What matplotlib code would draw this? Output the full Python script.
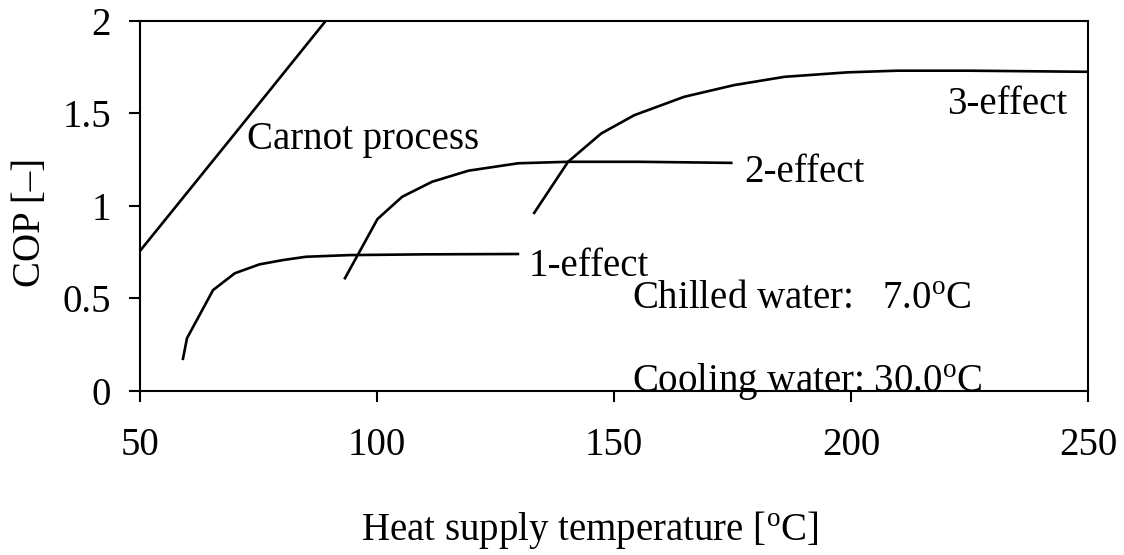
import matplotlib
matplotlib.use("Agg")
import matplotlib.pyplot as plt

plt.rcParams['font.family'] = ['Liberation Serif', 'DejaVu Serif']
plt.rcParams['mathtext.fontset'] = 'custom'
plt.rcParams['mathtext.rm'] = 'Liberation Serif'
plt.rcParams['mathtext.it'] = 'Liberation Serif:italic'

# Data
carnot_t = [50, 70, 89.2]
carnot_cop = [0.757, 1.39, 2.0]

eff1_t = [59.0, 59.9, 65.4, 70.0, 75.2, 80.1, 85.0, 94.1, 110.0, 130.0]
eff1_cop = [0.167, 0.285, 0.545, 0.636, 0.684, 0.707, 0.725, 0.734, 0.738, 0.740]

eff2_t = [93.1, 100.1, 105.3, 111.6, 119.3, 129.8, 140.3, 155.0, 175.0]
eff2_cop = [0.603, 0.929, 1.049, 1.13, 1.19, 1.23, 1.238, 1.238, 1.232]

eff3_t = [133.0, 140.3, 147.3, 154.3, 164.8, 175.3, 186.0, 199.2, 209.7, 225.0, 250.0]
eff3_cop = [0.956, 1.238, 1.391, 1.49, 1.589, 1.652, 1.697, 1.721, 1.73, 1.73, 1.724]

x_ticks = [50, 100, 150, 200, 250]
y_ticks = [0, 0.5, 1, 1.5, 2]
y_ticklabels = ['0', '0.5', '1', '1.5', '2']

fig = plt.figure(figsize=(11.24, 5.55), dpi=100)
ax = fig.add_axes([0.1246, 0.2955, 0.8434, 0.6672])

lw = 1.9
for t, c in [(carnot_t, carnot_cop), (eff1_t, eff1_cop), (eff2_t, eff2_cop), (eff3_t, eff3_cop)]:
    ax.plot(t, c, color='black', lw=lw, solid_capstyle='butt')

ax.set_xlim(50, 250)
ax.set_ylim(0, 2)
ax.set_xticks(x_ticks)
ax.set_yticks(y_ticks)
ax.set_yticklabels(y_ticklabels)
for s in ax.spines.values():
    s.set_linewidth(1.5)
fs = 28
ax.tick_params(axis='both', direction='out', length=8, width=1.5, labelsize=fs)
ax.tick_params(axis='x', pad=18)
ax.tick_params(axis='y', pad=13)

ax.text(72.5, 1.36, 'Carnot process', fontsize=fs, va='center', ha='left')
ax.text(177.5, 1.18, '2-effect', fontsize=fs, va='center', ha='left')
ax.text(131.9, 0.67, '1-effect', fontsize=fs, va='center', ha='left')
ax.text(245.7, 1.55, '3-effect', fontsize=fs, va='center', ha='right')
ax.text(153.8, 0.50, r'Chilled water:   7.0$^{\rm o}$C', fontsize=fs, va='center', ha='left')
ax.text(153.8, 0.05, r'Cooling water: 30.0$^{\rm o}$C', fontsize=fs, va='center', ha='left')

fig.text(0.027, 0.60, 'COP [\u2013]', fontsize=fs, rotation=90, va='center', ha='center')
fig.text(0.525, 0.045, r'Heat supply temperature [$^{\rm o}$C]', fontsize=fs, va='center', ha='center')

fig.savefig('out.png', dpi=100, facecolor='white')
